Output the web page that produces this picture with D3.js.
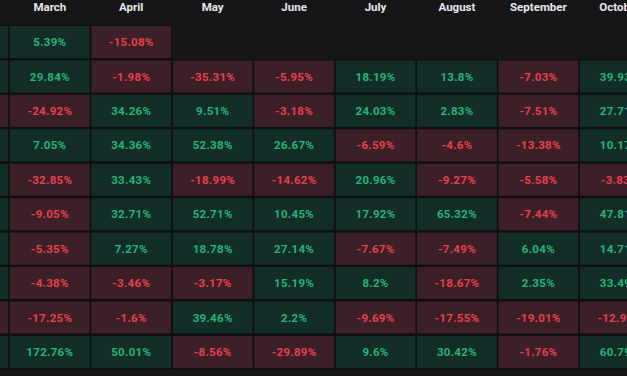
<!DOCTYPE html>
<html>
<head>
<meta charset="utf-8">
<script src="https://cdn.jsdelivr.net/npm/d3@7/dist/d3.min.js"></script>
<style>
  html, body { margin: 0; padding: 0; background: #161618; overflow: hidden; }
  svg { display: block; }
</style>
</head>
<body>
<svg id="heat" width="627" height="376"></svg>
<script>
// ---------------- Data ----------------
// months (February and October are cut by the frame)
const months = ["February", "March", "April", "May", "June", "July", "August", "September", "October"];
// rows, newest first
const years = [2024, 2023, 2022, 2021, 2020, 2019, 2018, 2017, 2016, 2015];

// monthly returns in %, null = no data yet; February values are hidden, only the sign shows
const feb = [12.1, 21.5, -11.2, 18.7, 14.3, 9.6, 3.4, 24.5, -5.8, 13.4];
const mar = [5.39, 29.84, -24.92, 7.05, -32.85, -9.05, -5.35, -4.38, -17.25, 172.76];
const apr = [-15.08, -1.98, 34.26, 34.36, 33.43, 32.71, 7.27, -3.46, -1.6, 50.01];
const may = [null, -35.31, 9.51, 52.38, -18.99, 52.71, 18.78, -3.17, 39.46, -8.56];
const jun = [null, -5.95, -3.18, 26.67, -14.62, 10.45, 27.14, 15.19, 2.2, -29.89];
const jul = [null, 18.19, 24.03, -6.59, 20.96, 17.92, -7.67, 8.2, -9.69, 9.6];
const aug = [null, 13.8, 2.83, -4.6, -9.27, 65.32, -7.49, -18.67, -17.55, 30.42];
const sep = [null, -7.03, -7.51, -13.38, -5.58, -7.44, 6.04, 2.35, -19.01, -1.76];
const oct = [null, 39.93, 27.71, 10.17, -3.83, 47.81, 14.71, 33.49, -12.95, 60.79];

const series = [feb, mar, apr, may, jun, jul, aug, sep, oct];

const cells = [];
years.forEach((yr, r) => {
  months.forEach((m, c) => {
    const v = series[c][r];
    if (v !== null) cells.push({ year: yr, month: m, value: v });
  });
});

const svg = d3.select("#heat");
const width = +svg.attr("width");
const height = +svg.attr("height");

const colStep = 81.43, rowStep = 34.44;
const colGap = 1.8, rowGap = 2.44;

// Scales
const x = d3.scaleBand()
  .domain(months)
  .range([-72.33, -72.33 + colStep * months.length])
  .paddingInner(colGap / colStep)
  .paddingOuter(colGap / colStep / 2);

const y = d3.scaleBand()
  .domain(years)
  .range([24.78, 24.78 + rowStep * years.length])
  .paddingInner(rowGap / rowStep)
  .paddingOuter(rowGap / rowStep / 2);

const pos = { bg: "#132e28", fg: "#25b47a" };
const neg = { bg: "#3d1f27", fg: "#e6404f" };

svg.append("rect")
  .attr("width", width)
  .attr("height", height)
  .attr("fill", "#161618");

// Month headers
svg.append("g")
  .selectAll("text")
  .data(months)
  .enter()
  .append("text")
  .attr("x", d => x(d) + x.bandwidth() / 2)
  .attr("y", 10.5)
  .attr("text-anchor", "middle")
  .attr("fill", "#e8e8ec")
  .attr("font-family", "Roboto, sans-serif")
  .attr("font-weight", 700)
  .attr("font-size", "11.5px")
  .text(d => d);

// Dark lines behind each cell
svg.append("g")
  .selectAll("rect")
  .data(cells)
  .enter()
  .append("rect")
  .attr("x", d => x(d.month) - colGap / 2)
  .attr("y", d => y(d.year) - rowGap / 2)
  .attr("width", x.step())
  .attr("height", y.step())
  .attr("fill", "#0f0f11");

// Cells
svg.append("g")
  .selectAll("rect")
  .data(cells)
  .enter()
  .append("rect")
  .attr("x", d => x(d.month))
  .attr("y", d => y(d.year))
  .attr("width", x.bandwidth())
  .attr("height", y.bandwidth())
  .attr("fill", d => d.value >= 0 ? pos.bg : neg.bg);

// Values
svg.append("g")
  .selectAll("text")
  .data(cells)
  .enter()
  .append("text")
  .attr("x", d => x(d.month) + x.bandwidth() / 2)
  .attr("y", d => y(d.year) + y.bandwidth() / 2)
  .attr("dy", "0.36em")
  .attr("text-anchor", "middle")
  .attr("fill", d => d.value >= 0 ? pos.fg : neg.fg)
  .attr("font-family", "Roboto, sans-serif")
  .attr("font-weight", 700)
  .attr("font-size", "11.5px")
  .attr("letter-spacing", "0.3px")
  .text(d => d.value + "%");
</script>
</body>
</html>
